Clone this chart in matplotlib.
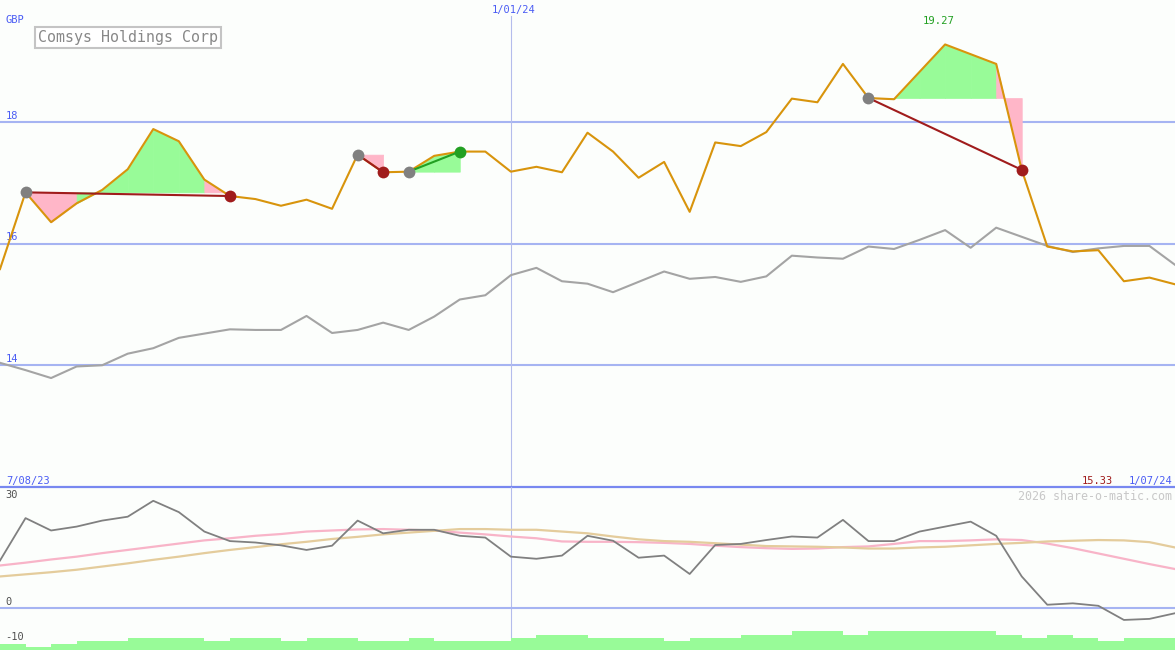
import numpy as np
import matplotlib
matplotlib.use("Agg")
import matplotlib.pyplot as plt

# weekly closes, 7/08/23 .. 1/07/24 (GBP)
price = [15.58, 16.84, 16.35, 16.66, 16.88, 17.22, 17.88, 17.68, 17.05, 16.78,
         16.73, 16.62, 16.72, 16.57, 17.46, 17.17, 17.18, 17.44, 17.51, 17.51,
         17.18, 17.26, 17.17, 17.82, 17.51, 17.08, 17.34, 16.52, 17.66, 17.60,
         17.83, 18.38, 18.32, 18.95, 18.39, 18.37, 18.82, 19.27, 19.11, 18.95,
         17.21, 15.95, 15.87, 15.89, 15.38, 15.44, 15.33]
# market index, rescaled onto the price axis
index_line = [14.04, 13.92, 13.79, 13.98, 14.00, 14.19, 14.28, 14.45, 14.52, 14.59,
              14.58, 14.58, 14.81, 14.53, 14.58, 14.70, 14.58, 14.80, 15.08, 15.15,
              15.48, 15.60, 15.38, 15.34, 15.20, 15.37, 15.54, 15.42, 15.45, 15.37,
              15.46, 15.80, 15.77, 15.75, 15.95, 15.91, 16.06, 16.22, 15.93, 16.26,
              16.11, 15.96, 15.86, 15.92, 15.96, 15.96, 15.65]
# lower panel oscillator and its two averages
osc = [13.3, 25.3, 21.8, 22.9, 24.6, 25.7, 30.2, 27.0, 21.5, 18.8,
       18.4, 17.6, 16.3, 17.5, 24.6, 21.0, 22.0, 22.0, 20.3, 19.8,
       14.4, 13.8, 14.7, 20.3, 18.9, 14.1, 14.7, 9.5, 17.7, 18.0,
       19.1, 20.1, 19.8, 24.8, 18.8, 18.8, 21.5, 22.9, 24.3, 20.3,
       8.8, 0.8, 1.2, 0.5, -3.5, -3.2, -1.6]
osc_fast = [11.9, 12.7, 13.6, 14.4, 15.4, 16.3, 17.2, 18.1, 19.0, 19.6,
            20.3, 20.8, 21.5, 21.8, 22.1, 22.2, 22.0, 21.8, 21.2, 20.7,
            20.1, 19.6, 18.7, 18.6, 18.6, 18.5, 18.3, 18.0, 17.5, 17.1,
            16.8, 16.6, 16.7, 17.1, 17.3, 18.0, 18.8, 18.8, 19.0, 19.3,
            19.1, 18.1, 16.8, 15.3, 13.8, 12.3, 10.9]
osc_slow = [8.8, 9.4, 10.0, 10.7, 11.6, 12.5, 13.5, 14.4, 15.4, 16.3,
            17.1, 17.9, 18.6, 19.4, 20.0, 20.7, 21.2, 21.7, 22.2, 22.2,
            22.0, 22.0, 21.5, 21.0, 20.1, 19.3, 18.8, 18.6, 18.2, 17.8,
            17.4, 17.3, 17.2, 17.0, 16.7, 16.7, 17.0, 17.2, 17.6, 18.0,
            18.3, 18.7, 18.9, 19.1, 19.0, 18.5, 17.0]
# weekly volume (relative units)
volume = [6, 3, 6, 9, 9, 12, 12, 12, 9, 12,
          12, 9, 12, 12, 9, 9, 12, 9, 9, 9,
          12, 15, 15, 12, 12, 12, 9, 12, 12, 15,
          15, 19, 19, 15, 19, 19, 19, 19, 19, 15,
          12, 15, 12, 9, 12, 12]
# trades: entry / exit week
trade_in = [1, 14, 16, 34]
trade_out = [9, 15, 18, 40]

name = "Comsys Holdings Corp"
start_label, mid_label, end_label = "7/08/23", "1/01/24", "1/07/24"
mid_week = 20
price_ticks = [14, 16, 18]
osc_ticks = [30, 0, -10]

W, H = 1175, 650
BG = "#fcfefc"
GRID = "#a6b4f2"
BLUE = "#4a5cf4"
PINK = "#ffb6c8"
LGREEN = "#98fb98"
RED = "#a01c1c"
GREEN = "#22a022"
ORANGE = "#d8940c"
MONO = "DejaVu Sans Mono"

weeks = np.arange(len(price))
fig = plt.figure(figsize=(W / 100, H / 100), dpi=100, facecolor=BG)
split = 163 / H
ax = fig.add_axes([0, split, 1, 1 - split])
ax2 = fig.add_axes([0, 0, 1, split])
for a in (ax, ax2):
    a.set_axis_off()
    a.set_xlim(0, len(price) - 1)
ax.set_ylim(12, 20)
ax2.set_ylim(-12, 34.1)


def px(x, y):
    return x / W, 1 - y / H


# ---- top panel ----
for t in price_ticks:
    ax.axhline(t, color=GRID, lw=1.5, zorder=1)
    ax.annotate(str(t), xy=(0, t), xycoords=("axes fraction", "data"),
                xytext=(6, 3), textcoords="offset pixels", fontsize=7.5,
                family=MONO, color=BLUE, va="baseline")
ax.axhline(12, color="#7888f0", lw=1.6, zorder=5, clip_on=False)
ax.axvline(mid_week, ymax=1 - 16 / 487, color="#b4bcec", lw=0.8, zorder=1)
ax2.axvline(mid_week, color="#b4bcec", lw=0.8, zorder=1)

ax.plot(weeks, index_line, color="#a4a4a4", lw=1.5, zorder=2)

# trade shading: each week coloured by where that week closes vs entry
for a_, b_ in zip(trade_in, trade_out):
    level = price[a_]
    for j in range(a_, b_):
        col = LGREEN if price[j + 1] >= level else PINK
        ax.fill_between([j, j + 1], [price[j], price[j + 1]], level,
                        facecolor=col, edgecolor=col, lw=0.5, zorder=2)

ax.plot(weeks, price, color=ORANGE, lw=1.5, zorder=3)

for a_, b_ in zip(trade_in, trade_out):
    col = GREEN if price[b_] > price[a_] else RED
    ax.plot([a_, b_], [price[a_], price[b_]], color=col, lw=1.5, zorder=4)
    ax.plot(a_, price[a_], "o", ms=8.5, color="#808080", mec="none", zorder=5)
    ax.plot(b_, price[b_], "o", ms=8.5, color=col, mec="none", zorder=5)

top = int(np.argmax(price))
ax.annotate(f"{price[top]:.2f}", xy=(top, price[top]), xytext=(-6, 20),
            textcoords="offset pixels", ha="center", va="baseline",
            fontsize=7.7, family=MONO, color=GREEN)

fig.text(*px(6, 23), "GBP", fontsize=7.5, family=MONO, color=BLUE)
fig.text(*px(38, 42), name, fontsize=10.8, family=MONO, color="#888888",
         bbox=dict(boxstyle="square,pad=0.22", fc="white", ec="#c4c4c4", lw=1.5))
fig.text(*px(514, 13), mid_label, fontsize=7.5, family=MONO, color=BLUE,
         ha="center")
fig.text(*px(6, 484), start_label, fontsize=7.5, family=MONO, color=BLUE)
fig.text(*px(1172, 484), end_label, fontsize=7.5, family=MONO, color=BLUE,
         ha="right")
fig.text(*px(1113, 484), f"{price[-1]:.2f}", fontsize=7.5, family=MONO,
         color=RED, ha="right")

# ---- lower panel ----
ax2.axhline(0, color=GRID, lw=1.5, zorder=1)
ax2.plot(weeks, osc_fast, color="#f8b4c8", lw=1.6, zorder=2)
ax2.plot(weeks, osc_slow, color="#e4cc9c", lw=1.6, zorder=2)
ax2.plot(weeks, osc, color="#808080", lw=1.3, zorder=3)
for t in osc_ticks:
    ax2.annotate(str(t), xy=(0, t), xycoords=("axes fraction", "data"),
                 xytext=(5, 3), textcoords="offset pixels", fontsize=7.5,
                 family=MONO, color="#505050", va="baseline", zorder=6)

axv = ax2.twinx()
axv.set_axis_off()
axv.set_ylim(0, 163)
axv.bar(weeks[:-1], volume, width=1, align="edge", color=LGREEN, lw=0, zorder=4)

fig.text(*px(1172, 500), "2026 share-o-matic.com", fontsize=8.4, family=MONO,
         color="#c8c8c8", ha="right")

fig.savefig("out.png", dpi=100, facecolor=BG)
